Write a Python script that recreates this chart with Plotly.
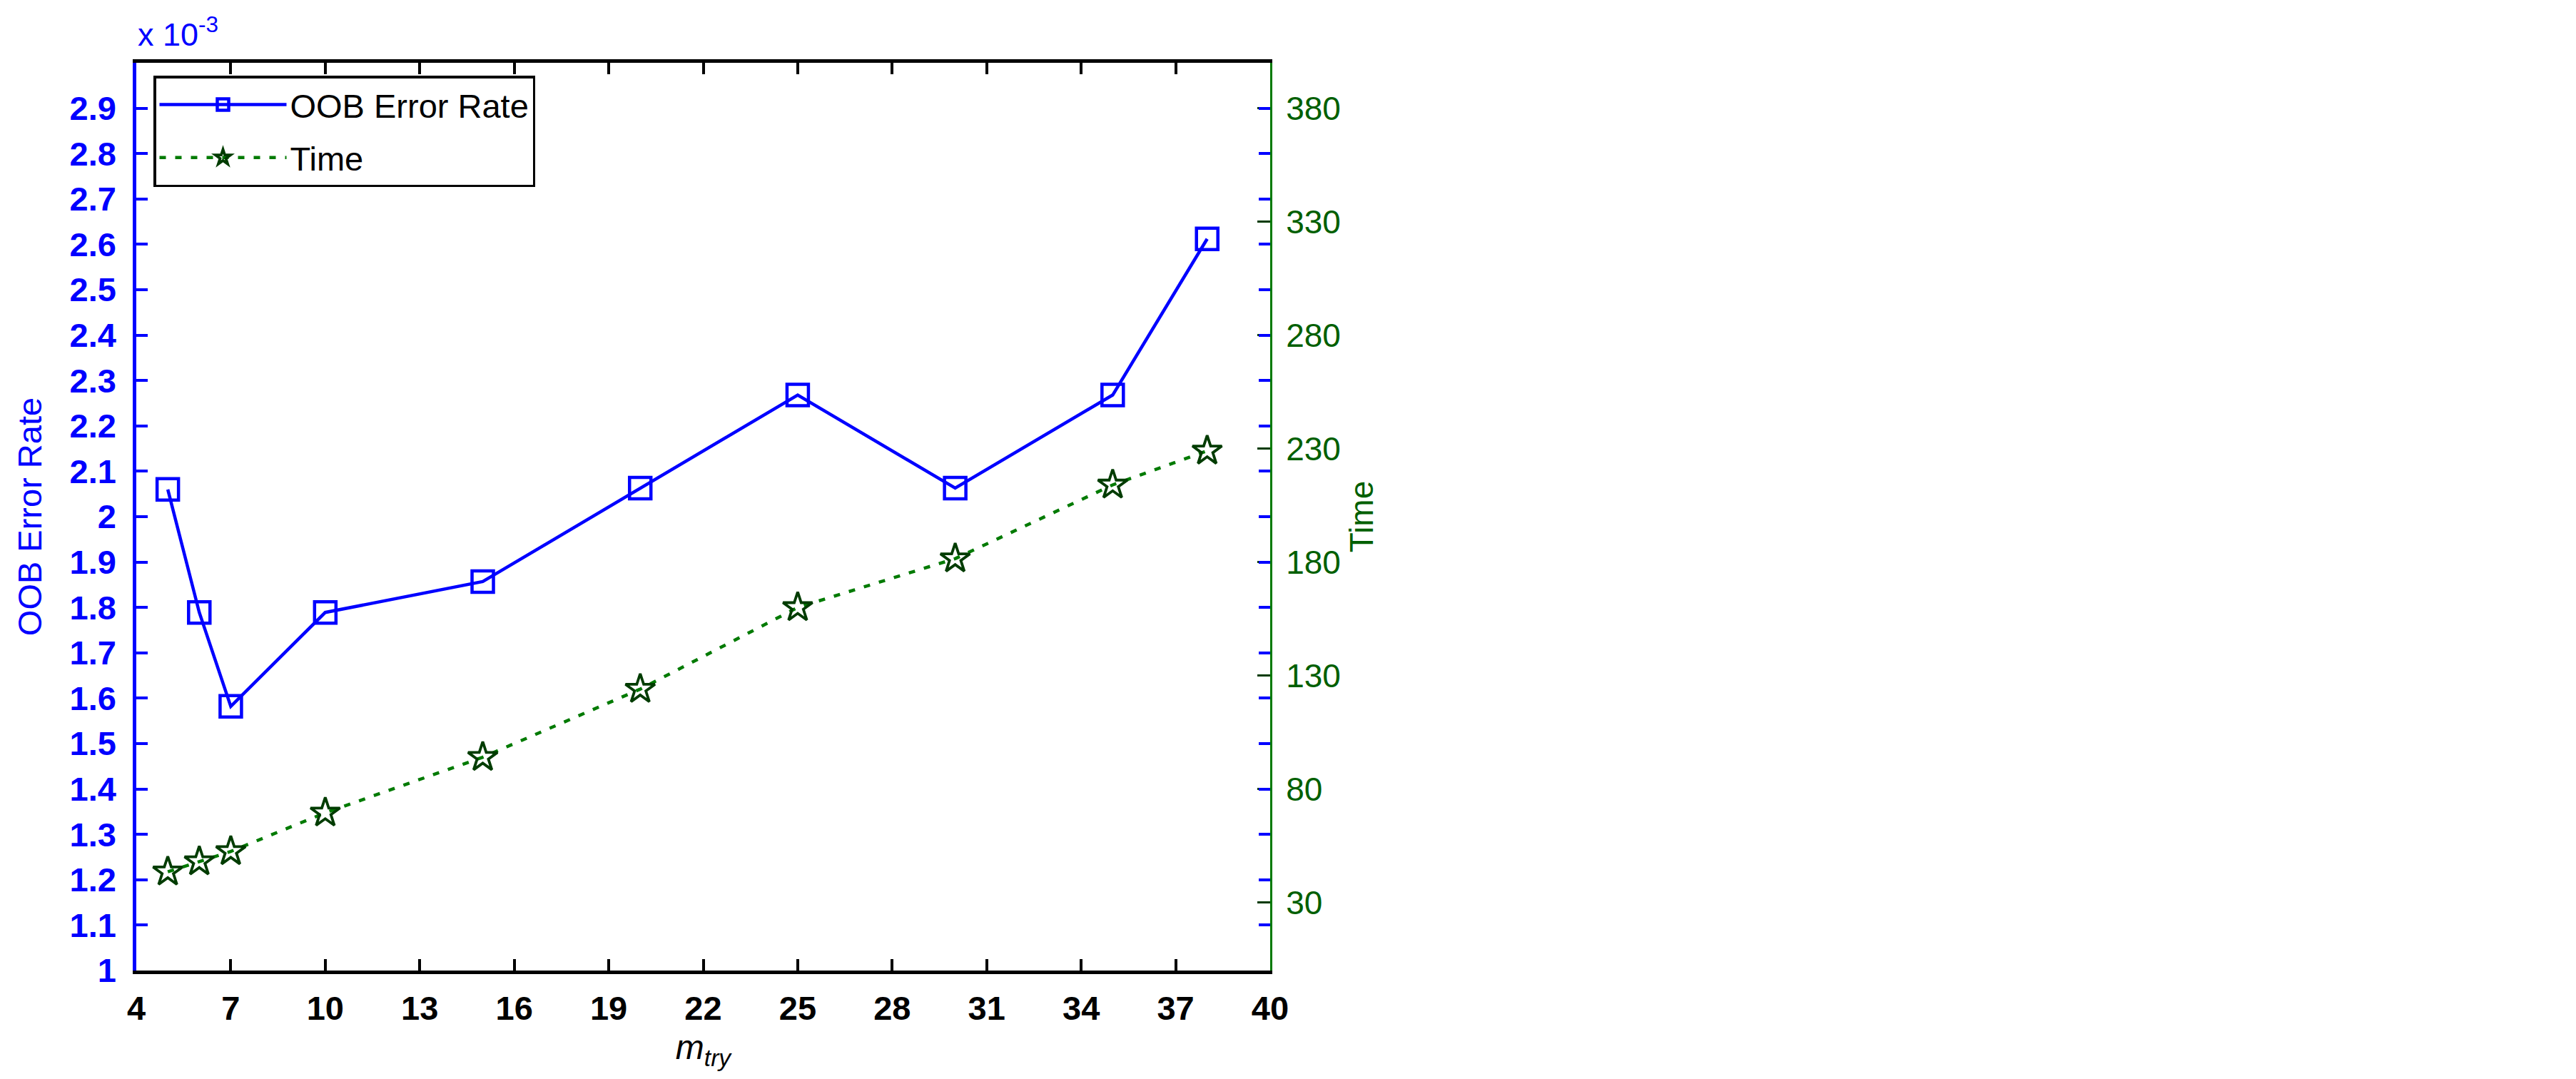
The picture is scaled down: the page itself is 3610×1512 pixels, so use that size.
import plotly.graph_objects as go

# ---- data ----
m_try = [5, 6, 7, 10, 15, 20, 25, 30, 35, 38]
oob_error_rate = [2.060e-3, 1.789e-3, 1.582e-3, 1.789e-3, 1.857e-3,
                  2.063e-3, 2.268e-3, 2.063e-3, 2.268e-3, 2.612e-3]
time_values = [43.5, 48.0, 52.5, 69.5, 94.0, 124.0, 160.0, 181.5, 214.0, 229.0]

x_tick_vals = [4, 7, 10, 13, 16, 19, 22, 25, 28, 31, 34, 37, 40]
oob_tick_labels = ["1", "1.1", "1.2", "1.3", "1.4", "1.5", "1.6", "1.7", "1.8", "1.9",
                   "2", "2.1", "2.2", "2.3", "2.4", "2.5", "2.6", "2.7", "2.8", "2.9"]
oob_tick_vals = [float(t) * 1e-3 for t in oob_tick_labels]
time_tick_vals = [30, 80, 130, 180, 230, 280, 330, 380]

BLUE = "#0000FF"
GREEN_LINE = "#007a00"
GREEN_MARK = "#003c00"
GREEN_TEXT = "#005f00"
FONT = "Liberation Sans, Arial, Helvetica, sans-serif"

W, H = 3610, 1512
PL, PR, PT, PB = 191, 1780, 88, 1360

fig = go.Figure()
fig.add_trace(go.Scatter(
    x=m_try, y=oob_error_rate, name="OOB Error Rate", mode="lines+markers",
    legendgroup="oob",
    line=dict(color=BLUE, width=4.5),
    marker=dict(symbol="square-open", size=30, color=BLUE, line=dict(width=4.5)),
    yaxis="y",
))
fig.add_trace(go.Scatter(
    x=m_try, y=time_values, name="Time", mode="lines+markers",
    legendgroup="time",
    line=dict(color=GREEN_LINE, width=4.5, dash="9px,13px"),
    marker=dict(symbol="star-open", size=31, color=GREEN_MARK, line=dict(width=3.8)),
    yaxis="y2",
))
# empty helper trace so the mirrored blue tick axis is drawn
fig.add_trace(go.Scatter(x=[], y=[], yaxis="y3", showlegend=False, hoverinfo="skip"))

fig.update_layout(
    width=W, height=H,
    margin=dict(l=PL, r=W - PR, t=PT, b=H - PB, autoexpand=False),
    paper_bgcolor="white", plot_bgcolor="white",
    font=dict(family=FONT, size=46, color="black"),
    showlegend=True,
    legend=dict(
        x=(215 - PL) / (PR - PL), y=(PB - 106) / (PB - PT),
        xanchor="left", yanchor="top",
        bgcolor="white", bordercolor="black", borderwidth=3.5,
        font=dict(family=FONT, size=47, color="black"),
        itemwidth=178, tracegroupgap=10,
    ),
    xaxis=dict(
        range=[4, 40], tickmode="array", tickvals=x_tick_vals,
        ticks="inside", ticklen=16, tickwidth=4, tickcolor="black",
        showline=True, linecolor="black", linewidth=4.5, mirror="ticks",
        showgrid=False, zeroline=False,
        tickfont=dict(family=FONT, size=47, color="black", weight="bold"),
        ticklabelstandoff=8,
        title=dict(text="<i>m<sub>try</sub></i>", font=dict(family=FONT, size=48, color="black"), standoff=14),
    ),
    yaxis=dict(
        range=[1e-3, 3e-3], tickmode="array", tickvals=oob_tick_vals, ticktext=oob_tick_labels,
        ticks="inside", ticklen=16, tickwidth=4, tickcolor=BLUE,
        showline=True, linecolor=BLUE, linewidth=4.5,
        showgrid=False, zeroline=False,
        tickfont=dict(family=FONT, size=47, color=BLUE, weight="bold"),
        ticklabelstandoff=14,
        title=dict(text="OOB Error Rate", font=dict(family=FONT, size=47, color=BLUE), standoff=26),
    ),
    yaxis2=dict(
        range=[0, 400], overlaying="y", side="right", anchor="x",
        tickmode="array", tickvals=time_tick_vals,
        ticks="inside", ticklen=18, tickwidth=3, tickcolor="#003a00",
        showline=True, linecolor=GREEN_LINE, linewidth=3,
        showgrid=False, zeroline=False,
        tickfont=dict(family=FONT, size=46, color=GREEN_TEXT),
        ticklabelstandoff=10,
        title=dict(text="Time", font=dict(family=FONT, size=46, color=GREEN_TEXT), standoff=14),
    ),
    yaxis3=dict(
        range=[1e-3, 3e-3], overlaying="y", side="right", anchor="x",
        tickmode="array", tickvals=oob_tick_vals[1:],
        ticks="inside", ticklen=16, tickwidth=4, tickcolor=BLUE,
        showticklabels=False, showline=False, showgrid=False, zeroline=False,
    ),
    annotations=[dict(
        text="x 10<sup>-3</sup>", xref="paper", yref="paper", x=0, y=1,
        xanchor="left", yanchor="bottom", showarrow=False, yshift=12,
        font=dict(family=FONT, size=45, color=BLUE),
    )],
)

fig.write_html(
    "out.html",
    config={"displayModeBar": False},
    post_script="document.body.style.margin='0';document.body.style.overflow='hidden';",
)
